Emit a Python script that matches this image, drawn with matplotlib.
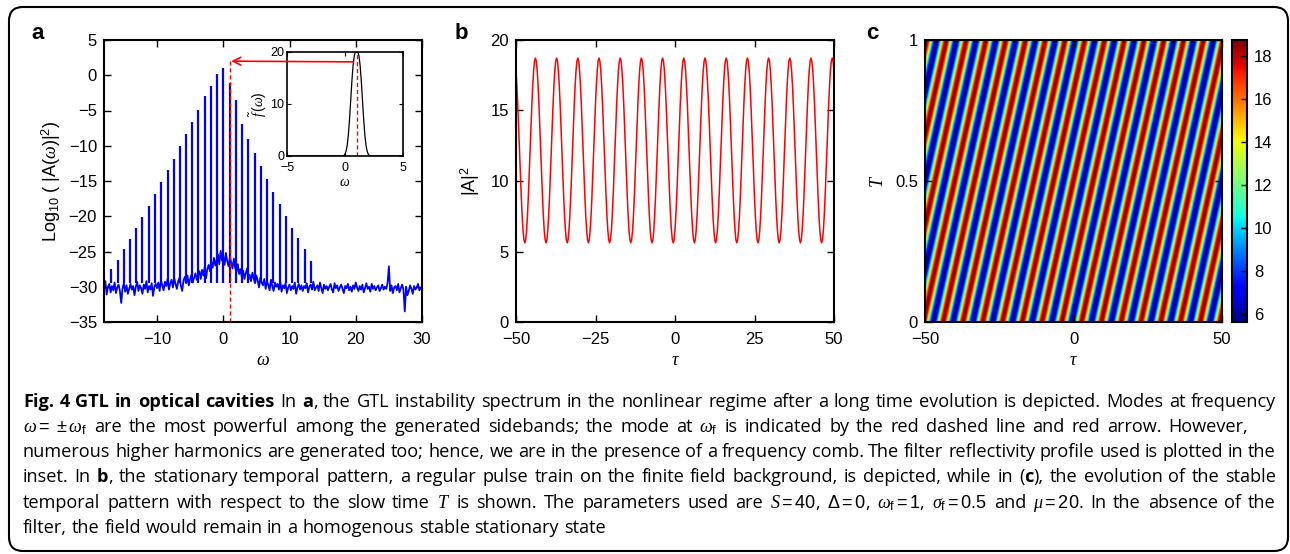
import numpy as np
import matplotlib
matplotlib.use("Agg")
import matplotlib.pyplot as plt
from matplotlib.patches import FancyBboxPatch

# ---- panel a: spectrum (background noise every 0.2 from -18 to 30) ----
bg_vals = [
    -30.4, -29.2, -31.1, -30.0, -29.6, -30.8, -29.9, -30.5, -29.4, -30.9,
    -30.1, -29.7, -30.6, -32.3, -30.2, -29.5, -30.7, -29.8, -31.0, -30.3,
    -29.6, -30.4, -29.9, -31.2, -30.0, -29.3, -30.6, -29.8, -30.2, -31.0,
    -29.7, -30.3, -29.2, -30.8, -29.9, -30.4, -29.5, -31.3, -30.0, -29.6,
    -30.2, -29.4, -30.6, -29.1, -29.8, -30.5, -29.3, -29.9, -28.9, -30.4,
    -29.5, -29.0, -30.1, -28.8, -29.6, -30.3, -29.2, -28.7, -29.9, -30.6,
    -29.1, -28.6, -29.5, -28.4, -29.8, -28.9, -28.3, -29.4, -28.7, -28.1,
    -29.0, -28.2, -27.8, -28.9, -27.6, -28.4, -27.2, -28.8, -27.5, -26.9,
    -27.8, -26.5, -27.3, -25.9, -27.0, -26.2, -25.4, -26.8, -24.9, -26.3,
    -25.6, -26.9, -25.2, -26.4, -27.1, -25.8, -26.6, -27.4, -26.0, -27.3,
    -27.9, -26.8, -28.2, -27.5, -28.6, -27.7, -28.9, -28.1, -27.4, -29.0,
    -28.3, -29.2, -28.0, -28.8, -29.5, -28.4, -29.1, -30.1, -28.7, -29.4,
    -29.8, -28.9, -30.3, -29.3, -29.7, -30.5, -29.0, -29.9, -30.6, -29.4,
    -30.0, -29.6, -30.4, -29.2, -30.7, -29.8, -30.2, -29.5, -30.9, -30.1,
    -29.7, -30.5, -29.9, -30.3, -29.4, -31.0, -30.1, -29.6, -30.4, -29.8,
    -30.6, -29.9, -30.2, -29.5, -30.8, -30.0, -29.7, -30.4, -29.3, -30.5,
    -30.1, -29.8, -30.6, -29.4, -30.2, -30.9, -29.7, -30.3, -29.9, -30.5,
    -30.0, -29.6, -30.4, -30.8, -29.5, -30.2, -29.8, -30.6, -30.1, -29.7,
    -30.3, -30.9, -29.9, -30.2, -29.6, -30.5, -30.0, -30.7, -29.8, -30.3,
    -29.4, -30.1, -30.6, -29.9, -30.4, -29.7, -30.8, -30.2, -29.5, -30.3,
    -30.0, -30.7, -29.6, -30.3, -29.9, -30.5, -30.1, -29.8, -30.6, -30.2,
    -29.7, -30.4, -30.0, -30.3, -29.5, -27.1, -30.6, -29.8, -30.9, -30.1,
    -29.9, -30.5, -29.6, -30.8, -30.2, -29.7, -30.4, -33.5, -30.0, -31.2,
    -30.6, -29.8, -30.3, -31.0, -29.9, -30.4, -30.1, -29.6, -30.5, -30.2,
    -30.0,
]
peak_w = [-16.9, -15.95, -15.0, -14.05, -13.1, -12.2, -11.25, -10.3, -9.35,
          -8.4, -7.45, -6.55, -5.6, -4.65, -3.75, -2.8, -1.85, -0.9, 0.0,
          0.95, 1.9, 2.85, 3.8, 4.75, 5.7, 6.6, 7.55, 8.5, 9.45, 10.4,
          11.35, 12.3, 13.25]
peak_h = [-27.5, -26.2, -24.7, -23.2, -21.7, -20.1, -18.5, -16.8, -15.2,
          -13.5, -11.9, -10.1, -8.4, -6.7, -4.9, -3.0, -1.5, 0.2, 1.0,
          -1.1, -3.5, -6.9, -9.0, -11.0, -12.9, -14.7, -16.5, -18.2, -19.9,
          -21.6, -23.1, -24.7, -26.3]
w_f = 1.0
arrow_level = 2.0

# inset: filter reflectivity
filt_w = [-5, -0.3, -0.1, 0.0, 0.1, 0.2, 0.3, 0.4, 0.5, 0.6, 0.7, 0.8, 0.9,
          1.0, 1.1, 1.2, 1.3, 1.4, 1.5, 1.6, 1.7, 1.8, 1.9, 2.0, 2.1, 2.3, 5]
filt_v = [0, 0, 0.1, 0.37, 1.0, 2.2, 4.3, 7.4, 11.0, 14.6, 17.5, 19.3, 20.0,
          20.0, 20.0, 19.3, 17.5, 14.6, 11.0, 7.4, 4.3, 2.2, 1.0, 0.37, 0.1,
          0, 0]

# ---- panel b: one period of |A|^2 starting at a peak ----
pulse_shape = [18.72, 18.50, 17.84, 16.80, 15.45, 13.87, 12.17, 10.47, 8.90,
               7.54, 6.50, 5.84, 5.62, 5.84, 6.50, 7.54, 8.90, 10.47, 12.17,
               13.87, 15.45, 16.80, 17.84, 18.50]
pulse_period = 100.0 / 15
first_peak = -43.9
n_periods = 17

# ---- panel c: drift of the pattern over slow time ----
drift = 21.0

caption_lines = [
    "**Fig. 4 GTL in optical cavities** In **a**, the GTL instability spectrum in the nonlinear regime after a long time evolution is depicted. Modes at frequency",
    r"$\omega{=}\,\pm\omega_{\rm f}$ are the most powerful among the generated sidebands; the mode at $\omega_{\rm f}$ is indicated by the red dashed line and red arrow. However,",
    "numerous higher harmonics are generated too; hence, we are in the presence of a frequency comb. The filter reflectivity profile used is plotted in the",
    "inset. In **b**, the stationary temporal pattern, a regular pulse train on the finite field background, is depicted, while in (**c**), the evolution of the stable",
    r"temporal pattern with respect to the slow time $T$ is shown. The parameters used are $S=40$, $\Delta=0$, $\omega_{\rm f}=1$, $\sigma_{\rm f}=0.5$ and $\mu=20$. In the absence of the",
    "filter, the field would remain in a homogenous stable stationary state",
]
caption_right = [1276, 1248, 1276, 1276, 1276, None]

plt.rcParams['font.family'] = ['Liberation Sans', 'DejaVu Sans']
plt.rcParams['mathtext.fontset'] = 'custom'
plt.rcParams['mathtext.rm'] = 'Liberation Sans'
plt.rcParams['mathtext.it'] = 'Liberation Serif:italic'
plt.rcParams['mathtext.bf'] = 'Liberation Sans:bold'

W, H = 1290, 554
fig = plt.figure(figsize=(W / 100, H / 100), dpi=100)


def px_axes(l, t, r, b):
    return fig.add_axes([l / W, 1 - b / H, (r - l) / W, (b - t) / H])


def style(ax, size=12, lw=1.5):
    ax.tick_params(direction='in', top=True, right=True, length=5, width=1,
                   labelsize=size)
    ax.tick_params(axis='x', pad=7)
    ax.tick_params(axis='y', pad=5)
    for s in ax.spines.values():
        s.set_linewidth(lw)


# panel a
ax_a = px_axes(104, 40, 422, 322)
w_grid = np.linspace(-18, 30, len(bg_vals))
ax_a.plot(w_grid, bg_vals, color='blue', lw=1.3)
ax_a.vlines(peak_w, -29.5, peak_h, color='blue', lw=1.6)
ax_a.plot([w_f, w_f], [-35, arrow_level], color='red', lw=1, ls=(0, (3, 2)))
ax_a.set_xlim(-18, 30)
ax_a.set_ylim(-35, 5)
ax_a.set_xticks([-10, 0, 10, 20, 30])
ax_a.set_yticks(range(-35, 6, 5))
style(ax_a)
ax_a.set_xlabel(r'$\omega$', fontsize=13, labelpad=4)
ax_a.set_ylabel(r'Log$_{10}$ ( |A($\omega$)|$^2$)', fontsize=13, labelpad=4)

ax_i = px_axes(287, 52, 403, 156)
ax_i.plot(filt_w, filt_v, color='black', lw=0.9)
ax_i.plot([w_f, w_f], [0, 20], color='red', lw=1, ls=(0, (3, 2)))
ax_i.set_xlim(-5, 5)
ax_i.set_ylim(0, 20)
ax_i.set_xticks([-5, 0, 5])
ax_i.set_yticks([0, 10, 20])
ax_i.tick_params(direction='in', top=True, right=True, length=3, width=0.8,
                 labelsize=9, pad=2)
ax_i.tick_params(axis='x', pad=4)
for s in ax_i.spines.values():
    s.set_linewidth(1.2)
ax_i.set_xlabel(r'$\omega$', fontsize=10, labelpad=1)
ax_i.set_ylabel(r'$\tilde{f}\,(\omega)$', fontsize=10, labelpad=1)
ax_i.annotate('', xy=(1.2, arrow_level), xycoords=ax_a.transData,
              xytext=(0.75, 18.1), textcoords='data',
              arrowprops=dict(arrowstyle='->', color='red', lw=1.2,
                              shrinkA=0, shrinkB=0, mutation_scale=14),
              annotation_clip=False)

# panel b
ax_b = px_axes(516, 40, 834, 322)
n_per = len(pulse_shape)
k = np.arange(-n_per, n_per * n_periods + 1)
tau_b = first_peak + k * pulse_period / n_per
a2_b = np.array(pulse_shape)[k % n_per]
ax_b.plot(tau_b, a2_b, color='red', lw=1.1)
ax_b.set_xlim(-50, 50)
ax_b.set_ylim(0, 20)
ax_b.set_xticks([-50, -25, 0, 25, 50])
ax_b.set_yticks([0, 5, 10, 15, 20])
style(ax_b)
ax_b.set_xlabel(r'$\tau$', fontsize=13, labelpad=4)
ax_b.set_ylabel(r'|A|$^2$', fontsize=13, labelpad=6)

# panel c
ax_c = px_axes(925, 40, 1222, 322)
tau_c = np.linspace(-50, 50, 700)
T_c = np.linspace(0, 1, 200)
xp = first_peak + np.arange(n_per) * pulse_period / n_per
field = np.interp(tau_c[None, :] - drift * T_c[:, None], xp, pulse_shape,
                  period=pulse_period)
im = ax_c.imshow(field, cmap='jet', vmin=5.63, vmax=18.72, origin='lower',
                 extent=[-50, 50, 0, 1], aspect='auto', interpolation='bilinear')
ax_c.set_xticks([-50, 0, 50])
ax_c.set_yticks([0, 0.5, 1])
ax_c.set_yticklabels(['0', '0.5', '1'])
style(ax_c)
ax_c.set_xlabel(r'$\tau$', fontsize=13, labelpad=4)
ax_c.set_ylabel(r'$T$', fontsize=13, labelpad=6)

cax = px_axes(1232, 40, 1247, 322)
cb = fig.colorbar(im, cax=cax, ticks=range(6, 19, 2))
cb.ax.tick_params(direction='in', length=4, width=1, labelsize=12, pad=5,
                  right=True, left=False)
cb.outline.set_linewidth(1.5)

# panel letters
for lx, letter in [(31, 'a'), (455, 'b'), (866, 'c')]:
    fig.text(lx / W, 1 - 39 / H, letter, fontsize=16, fontweight='bold',
             va='baseline')

# rounded frame
fig.patches.append(FancyBboxPatch((0.09, 0.03), 12.79, 5.44,
                                  boxstyle='round,pad=0,rounding_size=0.14',
                                  transform=fig.dpi_scale_trans, fill=False,
                                  lw=1.5, ec='black'))

# caption, justified word by word
cap_family = ['Open Sans', 'DejaVu Sans']
renderer = fig.canvas.get_renderer()


def parse(line):
    tokens, word, run, bold, math, i = [], [], '', False, False, 0
    while i < len(line):
        if line.startswith('**', i) and not math:
            if run:
                word.append((run, bold))
                run = ''
            bold = not bold
            i += 2
            continue
        ch = line[i]
        if ch == '$':
            math = not math
        if ch == ' ' and not math:
            if run:
                word.append((run, bold))
                run = ''
            if word:
                tokens.append(word)
                word = []
            i += 1
            continue
        run += ch
        i += 1
    if run:
        word.append((run, bold))
    if word:
        tokens.append(word)
    return tokens


def make_words(tokens, size):
    words = []
    for tok in tokens:
        runs = []
        for txt, b in tok:
            t = fig.text(0, 0, txt, fontsize=size, family=cap_family,
                         fontweight='bold' if b else 'normal', va='baseline')
            runs.append((t, t.get_window_extent(renderer).width))
        words.append(runs)
    return words


def space_width(size):
    a = fig.text(0, 0, 'n n', fontsize=size, family=cap_family)
    b = fig.text(0, 0, 'nn', fontsize=size, family=cap_family)
    w = a.get_window_extent(renderer).width - b.get_window_extent(renderer).width
    a.remove()
    b.remove()
    return w


cap_left = 23
cap_base = [407, 432, 457, 482, 508, 533]
parsed = [parse(l) for l in caption_lines]

base_size = 12
sw = space_width(base_size)
ratio = 10.0
for toks, right in zip(parsed, caption_right):
    if right is None:
        continue
    words = make_words(toks, base_size)
    nat = sum(w for runs in words for _, w in runs) + sw * (len(words) - 1)
    ratio = min(ratio, (right - cap_left) / nat)
    for runs in words:
        for t, _ in runs:
            t.remove()
cap_size = base_size * min(ratio, 1.1)
sw = space_width(cap_size)

for toks, right, yb in zip(parsed, caption_right, cap_base):
    words = make_words(toks, cap_size)
    widths = [sum(w for _, w in runs) for runs in words]
    if right is None:
        gap = sw
    else:
        gap = (right - cap_left - sum(widths)) / (len(words) - 1)
    x = cap_left
    for runs, ww in zip(words, widths):
        xr = x
        for t, w in runs:
            t.set_position((xr / W, 1 - yb / H))
            xr += w
        x += ww + gap

fig.savefig("out.png", dpi=100)
